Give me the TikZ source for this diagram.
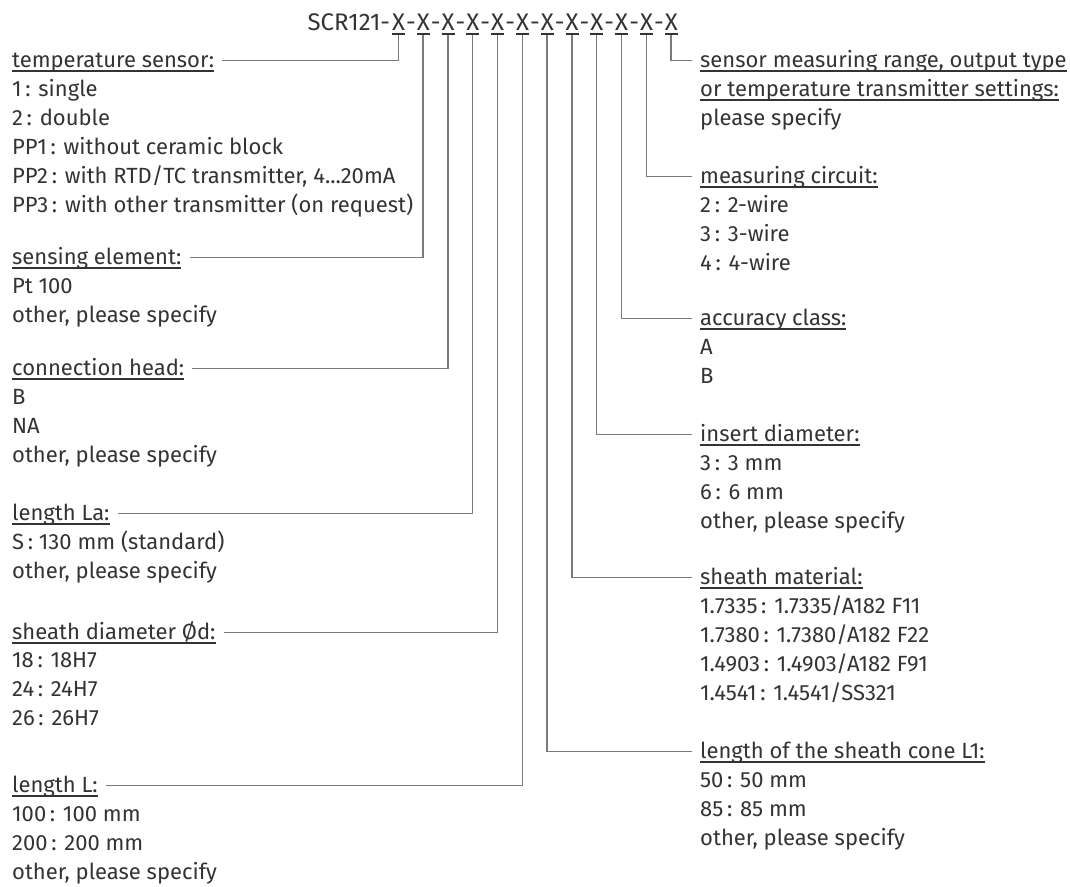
\documentclass[tikz,border=0pt]{standalone}
\usepackage{fontspec}
\setmainfont{Fira Sans}
\definecolor{txt}{HTML}{333333}
\definecolor{ln}{HTML}{7A7A7A}
\newcommand\ulx[1]{\setbox0=\hbox{#1}\rlap{\rule[-4.6pt]{\wd0}{1.5pt}}\box0}
\newcommand\xu{\hbox to 24.8pt{\hss\ulx{X}\hss}}
\newcommand\hy{\hbox to 0pt{\hss-\hss}}
\newcommand\fnt{\fontsize{22}{29}\selectfont}
\newcommand\tfnt{\fontsize{24}{29}\selectfont}
\tikzset{
  hd/.style={anchor=base west, inner sep=0pt, font=\fnt, text=txt},
  it/.style={anchor=base west, inner sep=0pt, font=\fnt, text=txt},
  xn/.style={anchor=base west, inner sep=0pt, font=\tfnt, text=txt},
  conn/.style={draw=ln, line width=1.3pt},
}
\begin{document}
\begin{tikzpicture}[x=1pt,y=-1pt]
\useasboundingbox (0,0) rectangle (1070,886);
% title
\node[xn] (title) at (385.9,30) {\llap{SCR121-\kern-4pt}\xu\hy\xu\hy\xu\hy\xu\hy\xu\hy\xu\hy\xu\hy\xu\hy\xu\hy\xu\hy\xu\hy\xu};
\foreach \i in {1,...,12}
  {\coordinate (X\i) at ([xshift={12.4pt+24.8pt*(\i-1)},yshift=-4.6pt]title.base west);}
% left headers
\node[hd] (L1) at (12,67) {\ulx{temperature sensor:}};
\node[hd] (L2) at (12,264) {\ulx{sensing element:}};
\node[hd] (L3) at (12,375) {\ulx{connection head:}};
\node[hd] (L4) at (12,520) {\ulx{length La:}};
\node[hd] (L5) at (12,639) {\ulx{sheath diameter Ød:}};
\node[hd] (L6) at (12,792) {\ulx{length L:}};
% left items
\node[it] (a1) at (12,96) {1\,: single};
\node[it] (a2) at (12,125) {2\,: double};
\node[it] (a3) at (12,154) {PP1\,: without ceramic block};
\node[it] (a4) at (12,183) {PP2\,: with RTD/TC transmitter, 4...20mA};
\node[it] (a5) at (12,212) {PP3\,: with other transmitter (on request)};
\foreach \t [count=\i] in {{Pt 100},{other, please specify}}
  {\node[it] (b\i) at (12,264+29*\i) {\t};}
\foreach \t [count=\i] in {{B},{NA},{other, please specify}}
  {\node[it] (c\i) at (12,375+29*\i) {\t};}
\foreach \t [count=\i] in {{S\,: 130 mm (standard)},{other, please specify}}
  {\node[it] (d\i) at (12,520+29*\i) {\t};}
\foreach \t [count=\i] in {{18\,: 18H7},{24\,: 24H7},{26\,: 26H7}}
  {\node[it] (e\i) at (12,638+29*\i) {\t};}
\foreach \t [count=\i] in {{100\,: 100 mm},{200\,: 200 mm},{other, please specify}}
  {\node[it] (f\i) at (12,792+29*\i) {\t};}
% right headers
\node[hd] (R12) at (700,67) {\ulx{sensor measuring range, output type}};
\node[hd] (R12b) at (700,96) {\ulx{or temperature transmitter settings:}};
\node[hd] (R11) at (700,183) {\ulx{measuring circuit:}};
\node[hd] (R10) at (700,325) {\ulx{accuracy class:}};
\node[hd] (R9) at (700,441) {\ulx{insert diameter:}};
\node[hd] (R8) at (700,584) {\ulx{sheath material:}};
\node[hd] (R7) at (700,758) {\ulx{length of the sheath cone L1:}};
% right items
\node[it] (g1) at (700,125) {please specify};
\foreach \t [count=\i] in {{2\,: 2-wire},{3\,: 3-wire},{4\,: 4-wire}}
  {\node[it] (h\i) at (700,183+29*\i) {\t};}
\foreach \t [count=\i] in {{A},{B}}
  {\node[it] (k\i) at (700,325+29*\i) {\t};}
\foreach \t [count=\i] in {{3\,: 3 mm},{6\,: 6 mm},{other, please specify}}
  {\node[it] (m\i) at (700,441+29*\i) {\t};}
\foreach \t [count=\i] in {{1.7335\,: 1.7335/A182 F11},{1.7380\,: 1.7380/A182 F22},{1.4903\,: 1.4903/A182 F91},{1.4541\,: 1.4541/SS321}}
  {\node[it] (n\i) at (700,584+29*\i) {\t};}
\foreach \t [count=\i] in {{50\,: 50 mm},{85\,: 85 mm},{other, please specify}}
  {\node[it] (p\i) at (700,758+29*\i) {\t};}
% connectors
\foreach \i in {1,...,6}
  {\draw[conn] (X\i) |- ([xshift=8pt,yshift=6.5pt]L\i.base east);}
\foreach \i in {7,...,12}
  {\draw[conn] (X\i) |- ([xshift=-8pt,yshift=6.5pt]R\i.base west);}
\end{tikzpicture}
\end{document}
